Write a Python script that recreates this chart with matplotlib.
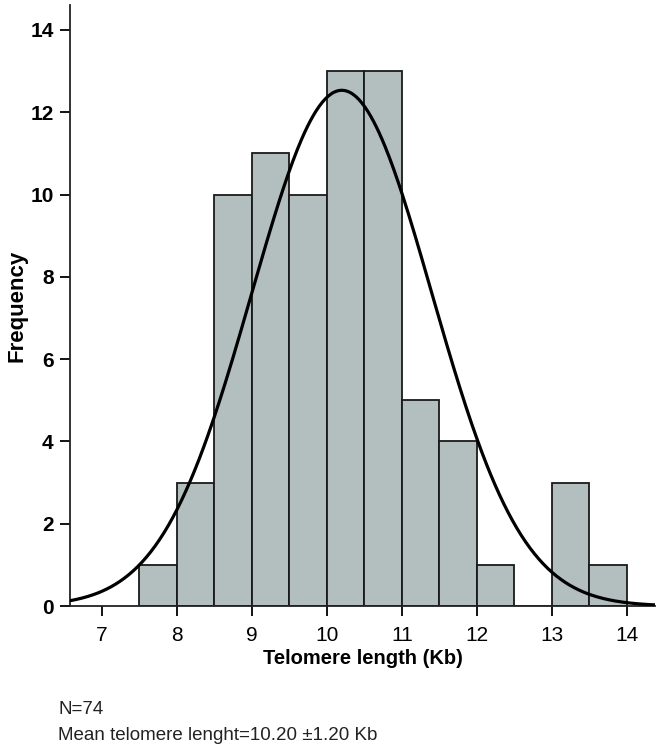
import numpy as np
import matplotlib
matplotlib.use("Agg")
from matplotlib import pyplot as plt

plt.rcParams['font.family'] = ['Liberation Sans', 'DejaVu Sans']

# histogram bins (Kb) and counts
bin_edges = [7.5, 8.0, 8.5, 9.0, 9.5, 10.0, 10.5, 11.0, 11.5, 12.0, 12.5, 13.0, 13.5, 14.0]
counts = [1, 3, 10, 11, 10, 13, 13, 5, 4, 1, 0, 3, 1]

# fitted normal curve parameters (from the caption)
n_samples = 74
mean_len = 10.20
sd_len = 1.20
curve_scale = 37.7   # area scaling so the peak sits at ~12.5

x_ticks = [7, 8, 9, 10, 11, 12, 13, 14]
y_ticks = [0, 2, 4, 6, 8, 10, 12, 14]

fig = plt.figure(figsize=(6.62, 7.52), dpi=100)
ax = fig.add_axes([0.106, 0.194, 0.883, 0.799])

widths = np.diff(bin_edges)
ax.bar(bin_edges[:-1], counts, width=widths, align='edge',
       color='#b3bfbf', edgecolor='#1a1a1a', linewidth=1.3, zorder=2)

xs = np.linspace(6.58, 14.37, 400)
ys = curve_scale / (sd_len * np.sqrt(2 * np.pi)) * np.exp(-0.5 * ((xs - mean_len) / sd_len) ** 2)
ax.plot(xs, ys, color='black', linewidth=2.3, zorder=3)

ax.set_xlim(6.58, 14.37)
ax.set_ylim(0, 14.6)
ax.set_xticks(x_ticks)
ax.set_yticks(y_ticks)
for side in ['top', 'right']:
    ax.spines[side].set_visible(False)
for side in ['left', 'bottom']:
    ax.spines[side].set_linewidth(1.3)
    ax.spines[side].set_color('#222222')
ax.tick_params(axis='both', direction='out', length=7, width=1.3)
ax.tick_params(axis='y', pad=5)
ax.tick_params(axis='x', pad=7)
ax.set_yticklabels([str(v) for v in y_ticks], fontsize=15, fontweight='bold')
ax.set_xticklabels([str(v) for v in x_ticks], fontsize=15)

ax.set_xlabel('Telomere length (Kb)', fontsize=14.5, fontweight='bold', labelpad=3)
ax.set_ylabel('Frequency', fontsize=16, fontweight='bold', labelpad=2)

fig.text(0.088, 1 - 709 / 752, 'N=%d' % n_samples, fontsize=13.5,
         va='center', ha='left', color='#222222')
fig.text(0.088, 1 - 735 / 752, 'Mean telomere lenght=%.2f \u00b1%.2f Kb' % (mean_len, sd_len),
         fontsize=13.5, va='center', ha='left', color='#222222')

plt.savefig('out.png', dpi=100)
